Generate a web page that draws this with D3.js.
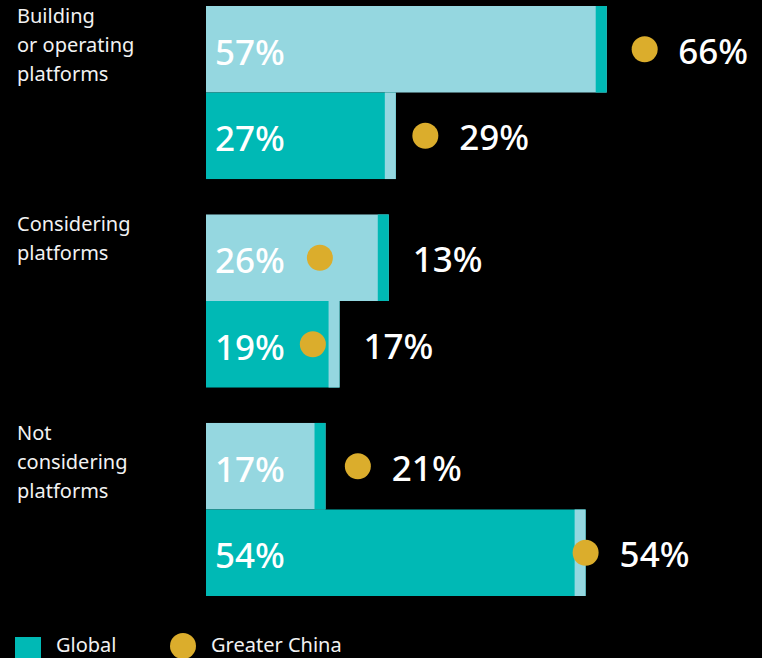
<!DOCTYPE html>
<html>
<head>
<meta charset="utf-8">
<script src="https://cdn.jsdelivr.net/npm/d3@7"></script>
<style>
  body { margin: 0; background: #000; }
  svg { display: block; background: #000; }
  text { font-family: "Noto Sans", sans-serif; fill: #fff; }
  text.cat { font-size: 20px; fill: #f2f2f2; }
  text.inner { font-size: 35px; font-weight: 500; }
  text.outer { font-size: 35px; font-weight: 500; }
  text.legend { font-size: 20px; fill: #f2f2f2; }
</style>
</head>
<body>
<div id="chart"></div>
<script>
const categories = ["Building or operating platforms", "Considering platforms", "Not considering platforms"];
const categoryLines = [["Building", "or operating", "platforms"], ["Considering", "platforms"], ["Not", "considering", "platforms"]];
const rows = ["a", "b"];
// global values, two bars per category
const globalValues = [[57, 27], [26, 19], [17, 54]];
// Greater China values and where the marker sits (in % units)
const chinaValues = [[66, 29], [13, 17], [21, 54]];
const chinaMarker = [[62.4, 31.2], [16.2, 15.2], [21.6, 54]];

const W = 762, H = 658;
const left = 206;
const light = "#95d7e0", teal = "#00b9b5", gold = "#dbad2c";

const svg = d3.select("#chart").append("svg").attr("width", W).attr("height", H);

const x = d3.scaleLinear().domain([0, 100]).range([left, left + 703]);
const yGroup = d3.scaleBand().domain(categories).range([6, 596]).paddingInner(0.17);
const yRow = d3.scaleBand().domain(rows).range([0, yGroup.bandwidth()]);

const data = [];
categories.forEach((c, i) => {
  rows.forEach((r, j) => {
    data.push({ cat: c, row: r, j, v: globalValues[i][j], gc: chinaValues[i][j], m: chinaMarker[i][j] });
  });
});

const strip = 11;
const g = svg.selectAll("g.bar").data(data).enter().append("g")
  .attr("class", "bar")
  .attr("transform", d => `translate(0, ${yGroup(d.cat) + yRow(d.row)})`);

const bh = yRow.bandwidth();

g.append("rect")
  .attr("x", x(0))
  .attr("y", 0)
  .attr("width", d => x(d.v) - x(0))
  .attr("height", bh)
  .attr("fill", d => d.j === 0 ? light : teal);

g.append("rect")
  .attr("x", d => x(d.v) - strip)
  .attr("y", 0)
  .attr("width", strip)
  .attr("height", bh)
  .attr("fill", d => d.j === 0 ? teal : light);

g.append("text")
  .attr("class", "inner")
  .attr("x", x(0) + 9)
  .attr("y", bh / 2 + 2)
  .attr("dominant-baseline", "central")
  .text(d => d.v + "%");

g.append("circle")
  .attr("cx", d => x(d.m))
  .attr("cy", bh / 2)
  .attr("r", 13)
  .attr("fill", gold);

g.append("text")
  .attr("class", "outer")
  .attr("x", d => Math.max(x(d.m) + 34, x(d.v) + 24))
  .attr("y", bh / 2 + 1)
  .attr("dominant-baseline", "central")
  .text(d => d.gc + "%")
  .each(function() {
    // keep labels inside the right edge
    const b = this.getBBox();
    if (b.x + b.width > W - 14) d3.select(this).attr("x", W - 14 - b.width);
  });

// category labels
categories.forEach((c, i) => {
  svg.append("text")
    .attr("class", "cat")
    .attr("x", 17)
    .attr("y", yGroup(c) + 17)
    .selectAll("tspan")
    .data(categoryLines[i])
    .enter().append("tspan")
    .attr("x", 17)
    .attr("dy", (d, k) => k === 0 ? 0 : 29)
    .text(d => d);
});

// legend
svg.append("rect").attr("x", 15).attr("y", 637).attr("width", 26).attr("height", 26).attr("fill", teal);
svg.append("text").attr("class", "legend").attr("x", 56).attr("y", 652).text("Global");
svg.append("circle").attr("cx", 183).attr("cy", 646).attr("r", 13).attr("fill", gold);
svg.append("text").attr("class", "legend").attr("x", 211).attr("y", 652).text("Greater China");
</script>
</body>
</html>
